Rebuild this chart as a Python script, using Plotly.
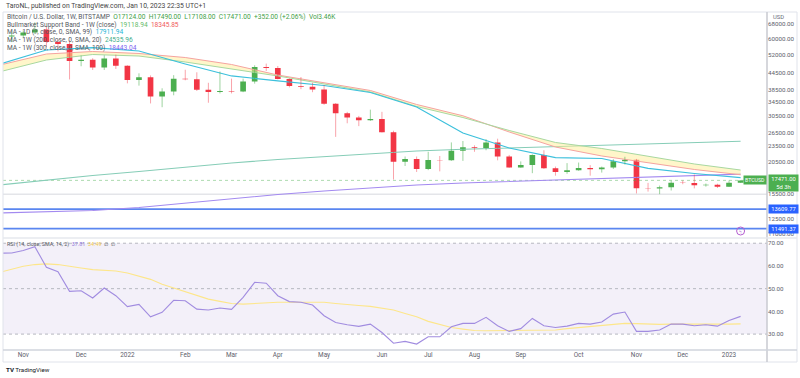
import math
import pandas as pd
import plotly.graph_objects as go

W, H = 800, 378
def px(x): return x / W
def py(y): return 1 - y / H

# ---------------- data ----------------
candle_dates = pd.date_range("2021-10-25", "2023-01-09", freq="7D")
opens  = [61000, 61500, 63200, 64800, 58200, 57200, 49300, 49800, 46600, 50400,
          47300, 41800, 42800, 36250, 37800, 42300, 42100, 38400, 37700, 38000,
          37800, 41250, 46800, 46400, 42150, 39700, 39450, 38470, 34000, 31300,
          30200, 29450, 29800, 26550, 20550, 21030, 19300, 20850, 20800, 22600,
          23300, 23170, 24310, 21500, 19550, 19990, 21800, 19400, 18800, 19100,
          19450, 19250, 19550, 20620, 20900, 16330, 16280, 16450, 17120, 17090,
          16750, 16840, 16550, 17124]
highs  = [63700, 64250, 69000, 66300, 59400, 59000, 51700, 50500, 51800, 52100,
          47500, 44300, 43500, 38900, 43600, 45700, 44700, 40800, 45000, 42300,
          42300, 47500, 48200, 47200, 42400, 42900, 40800, 40000, 34200, 31700,
          30600, 32300, 31700, 26900, 21500, 21500, 22400, 21600, 24300, 24600,
          23700, 25000, 25100, 21800, 20600, 21900, 22700, 19700, 20300, 20400,
          19950, 19700, 21000, 21450, 21050, 17100, 16700, 17420, 17450, 18400,
          17000, 16970, 17450, 17490]
lows   = [58100, 60100, 62300, 55600, 53600, 42000, 47100, 45600, 45600, 46000,
          40600, 39800, 34100, 33000, 36600, 41700, 38000, 34300, 37200, 37200,
          37600, 40500, 45200, 42000, 39200, 38600, 37600, 33700, 25500, 28700,
          28000, 29300, 26500, 17600, 19800, 18800, 19100, 18900, 20700, 20700,
          22400, 22700, 20800, 19500, 19500, 18600, 19300, 18200, 18500, 19000,
          18200, 18700, 19300, 20050, 15600, 15850, 15500, 16000, 16900, 16300,
          16550, 16350, 16500, 17108]
closes = [61500, 63200, 64800, 58200, 57200, 49300, 49800, 46600, 50400, 47300,
          41800, 42800, 36250, 37800, 42300, 42100, 38400, 37700, 38000, 37800,
          41250, 46800, 46400, 42150, 39700, 39450, 38470, 34000, 31300, 30200,
          29450, 29800, 26550, 20550, 21030, 19300, 20850, 20800, 22600, 23300,
          23170, 24310, 21500, 19550, 19990, 21800, 19400, 18800, 19100, 19450,
          19250, 19550, 20620, 20900, 16330, 16280, 16450, 17120, 17090, 16750,
          16840, 16550, 17124, 17471]

ma_dates = pd.date_range("2021-10-18", periods=17, freq="28D")
band_sma20 = [47620, 52390, 53550, 52630, 50820, 47830, 43650, 40730, 38160, 33790,
              30630, 26610, 23350, 21600, 20320, 19210, 18346]
band_ema21 = [44930, 49730, 52170, 51480, 48880, 45990, 43290, 40380, 37670, 33200,
              30170, 26960, 24290, 23050, 21500, 20150, 19119]
ma_1d      = [48040, 54250, 55350, 53780, 48040, 43290, 41520, 39850, 37500, 33060,
              26370, 23150, 21310, 21130, 19380, 18550, 17912]
ma_200w    = [16790, 17530, 18230, 18870, 19630, 20320, 20950, 21500, 22070, 22560,
              22890, 23150, 23350, 23660, 23970, 24180, 24536]
ma_300w    = [13160, 13280, 13450, 13800, 14360, 14930, 15460, 15940, 16350, 16790,
              17080, 17310, 17490, 17690, 17990, 18230, 18443]

rsi_dates = pd.date_range("2021-10-18", "2023-01-09", freq="7D")
rsi = [65.6, 65.7, 66.8, 68.5, 59.4, 57.5, 48.8, 49.1, 45.9, 50.3, 46.9, 42.1, 43.1,
       37.6, 39.6, 44.9, 44.7, 41.0, 40.6, 41.5, 40.9, 46.2, 52.8, 52.4, 46.9, 44.3,
       44.0, 42.8, 38.1, 35.1, 34.1, 33.4, 34.4, 30.7, 26.0, 26.8, 25.6, 28.8, 28.8,
       33.2, 34.7, 34.7, 37.4, 33.7, 31.2, 32.4, 36.9, 33.7, 32.9, 33.5, 34.7, 34.4,
       35.3, 38.8, 39.7, 31.2, 31.2, 31.8, 34.4, 34.4, 33.7, 34.1, 33.5, 36.0, 37.8]
rsi_ma = [57.2, 58.5, 59.9, 60.6, 60.9, 60.6, 60.0, 59.1, 58.4, 58.1, 57.8, 56.9, 55.6,
          54.1, 51.9, 50.3, 48.7, 46.8, 45.4, 44.4, 43.5, 43.2, 43.5, 43.8, 44.0, 44.0,
          44.0, 44.3, 44.0, 43.5, 42.9, 42.6, 42.2, 41.5, 40.6, 39.1, 37.6, 35.6, 34.1,
          32.9, 32.2, 31.6, 31.5, 31.5, 31.5, 31.5, 31.6, 31.6, 31.8, 32.4, 32.9, 33.5,
          34.0, 34.4, 34.7, 34.6, 34.3, 34.3, 34.4, 34.4, 34.4, 34.3, 34.1, 34.4, 34.5]

price_ticks = [68000, 60000, 52000, 44500, 38500, 34500, 30500, 26500, 23500, 20500,
               15500, 12500, 11000]
rsi_ticks = [70, 60, 50, 40, 30]
month_ticks = ["2021-11-01", "2021-12-06", "2022-01-03", "2022-02-07", "2022-03-07",
               "2022-04-04", "2022-05-02", "2022-06-06", "2022-07-04", "2022-08-01",
               "2022-08-29", "2022-10-03", "2022-11-07", "2022-12-05", "2023-01-02"]
month_labels = ["Nov", "Dec", "2022", "Feb", "Mar", "Apr", "May", "Jun", "Jul", "Aug",
                "Sep", "Oct", "Nov", "Dec", "2023"]

last_price = 17471.0
level_lines = [13609.77, 11491.37]
grey_level = 15500

x_range = ["2021-10-19 17:40", "2023-01-24 23:20"]
price_range = [4.0287, 4.8778]
rsi_range = [23.0, 72.3]

GREEN = "#4CAF50"
RED = "#F23645"
FONT = "Roboto"

# ---------------- figure ----------------
fig = go.Figure()

def line(x, y, color, width=1.0, dash=None, xa="x", ya="y", **kw):
    fig.add_trace(go.Scatter(x=x, y=y, mode="lines", xaxis=xa, yaxis=ya,
                             line=dict(color=color, width=width, dash=dash),
                             hoverinfo="skip", showlegend=False, **kw))

# horizontal levels
line(x_range, [grey_level] * 2, "#d6d8de", 1)
line(x_range, [last_price] * 2, "rgba(76,175,80,0.45)", 1, dash="dot")
for lv in level_lines:
    line(x_range, [lv] * 2, "#5a86f0", 1.8)

# moving averages
line(ma_dates, ma_200w, "#86cdb7", 1.1)
line(ma_dates, ma_300w, "#a38af0", 1.1)
line(ma_dates, band_sma20, "#f5a3a0", 1.0)
line(ma_dates, band_ema21, "#a8d8a0", 1.0, fill="tonexty",
     fillcolor="rgba(255,238,150,0.5)")
line(ma_dates, ma_1d, "#3cc0dc", 1.2)

# wicks
wx_up, wy_up, wx_dn, wy_dn = [], [], [], []
for d, o, h, l, c in zip(candle_dates, opens, highs, lows, closes):
    if c >= o:
        wx_up += [d, d, None]; wy_up += [l, h, None]
    else:
        wx_dn += [d, d, None]; wy_dn += [l, h, None]
line(wx_up, wy_up, "rgba(76,175,80,0.55)", 1)
line(wx_dn, wy_dn, "rgba(242,54,69,0.45)", 1)

fig.add_trace(go.Candlestick(
    x=candle_dates, open=opens, high=highs, low=lows, close=closes,
    increasing=dict(line=dict(color=GREEN, width=0), fillcolor=GREEN),
    decreasing=dict(line=dict(color=RED, width=0), fillcolor=RED),
    whiskerwidth=0, hoverinfo="skip", showlegend=False, xaxis="x", yaxis="y"))

# RSI pane
line(rsi_dates, rsi_ma, "#fde68a", 1.1, xa="x2", ya="y2")
line(rsi_dates, rsi, "#a18ce0", 1.1, xa="x2", ya="y2")

shapes = [
    dict(type="rect", xref="x2 domain", x0=0, x1=1, yref="y2", y0=30, y1=70,
         fillcolor="rgba(126,87,194,0.09)", line=dict(width=0), layer="below"),
]
for lv in [70, 50, 30]:
    shapes.append(dict(type="line", xref="x2 domain", x0=0, x1=1, yref="y2", y0=lv, y1=lv,
                       line=dict(color="#b6b8c0", width=1, dash="dot"), layer="below"))
# frame
shapes += [
    dict(type="rect", xref="paper", yref="paper", x0=px(3), x1=px(797), y0=py(362), y1=py(12),
         line=dict(color="#e0e3eb", width=1)),
    dict(type="line", xref="paper", yref="paper", x0=px(767), x1=px(767), y0=py(362), y1=py(12),
         line=dict(color="#c8cad0", width=1.5)),
    dict(type="line", xref="paper", yref="paper", x0=px(3), x1=px(797), y0=py(238), y1=py(238),
         line=dict(color="#e6e8ee", width=1.5)),
    dict(type="line", xref="paper", yref="paper", x0=px(3), x1=px(797), y0=py(350), y1=py(350),
         line=dict(color="#d1d4dc", width=1.5)),
    dict(type="circle", xref="paper", yref="paper", x0=px(736.6), x1=px(744.6),
         y0=py(235), y1=py(227), line=dict(color="#b45fd0", width=1)),
]

def span(t, c):
    return f"<span style='color:{c}'>{t}</span>"

TXT = "#555861"
ann = []
def note(x, y, text, size=6.6, color=TXT, **kw):
    ann.append(dict(xref="paper", yref="paper", x=px(x), y=py(y), text=text,
                    showarrow=False, xanchor=kw.pop("xanchor", "left"),
                    yanchor=kw.pop("yanchor", "middle"),
                    font=dict(family=FONT, size=size, color=color), **kw))

note(4, 6, "TaroNL, published on TradingView.com, Jan 10, 2023 22:35 UTC+1", size=6.8, color="#444")
note(5, 17, "Bitcoin / U.S. Dollar, 1W, BITSTAMP  " +
     span("O17124.00  H17490.00  L17108.00  C17471.00  +352.00 (+2.06%)  Vol3.46K", "#43a047"))
note(5, 25, "Bullmarket Support Band - 1W (close)  " + span("19118.94", "#66bb6a") + "  " +
     span("18345.85", "#f05a5a"))
note(5, 32.5, "MA - 1D (?, close, 0, SMA, 99)  " + span("17911.94", "#26b5d6"))
note(5, 40, "MA - 1W (200, close, 0, SMA, 20)  " + span("24535.96", "#3fae8c"))
note(5, 47.5, "MA - 1W (300, close, 0, SMA, 100)  " + span("18443.04", "#7e5ff0"))
note(5, 244, "RSI (14, close, SMA, 14, 2)  " + span("37.81", "#8c72d8") + "  " +
     span("34.49", "#f2c94c") + "  ∅  ∅", size=5.4)
note(771, 17, "USD", size=5.8, color="#6a6d78")
note(4, 370, "<b>TV</b> TradingView", size=6.2, color="#131722")
note(740.6, 231, "ϟ", size=6, color="#b45fd0", xanchor="center")

# axis-side labels
def tag(yval, text, bg, lines=1):
    ann.append(dict(xref="paper", yref="y", x=px(768), y=math.log10(yval), text=text,
                    showarrow=False, xanchor="left", yanchor="middle", align="center",
                    bgcolor=bg, width=27, borderpad=1,
                    yshift=-3 if lines > 1 else 0,
                    font=dict(family=FONT, size=5.8, color="white")))
tag(last_price, "17471.00<br>5d 3h", GREEN, lines=2)
for lv in level_lines:
    tag(lv, f"{lv:.2f}", "#2962ff")
ann.append(dict(xref="paper", yref="y", x=px(766.5), y=math.log10(last_price), text="BTCUSD",
                showarrow=False, xanchor="right", yanchor="middle", bgcolor=GREEN,
                borderpad=1, font=dict(family=FONT, size=5.2, color="white")))

fig.update_layout(
    width=W, height=H, margin=dict(l=0, r=0, t=0, b=0),
    paper_bgcolor="white", plot_bgcolor="white", showlegend=False,
    font=dict(family=FONT, size=6.4, color="#5d606b"),
    boxgap=0.3,
    xaxis=dict(domain=[px(3), px(767)], range=x_range, type="date", anchor="y",
               showticklabels=False, showgrid=False, zeroline=False,
               rangeslider=dict(visible=False), fixedrange=True),
    xaxis2=dict(domain=[px(3), px(767)], range=x_range, type="date", anchor="y2",
                matches="x", tickmode="array", tickvals=month_ticks, ticktext=month_labels,
                showgrid=False, zeroline=False, ticks="",
                tickfont=dict(family=FONT, size=6.4, color="#5d606b")),
    yaxis=dict(domain=[py(237), py(12)], type="log", range=price_range, side="right",
               anchor="x", tickmode="array", tickvals=price_ticks,
               ticktext=[f"{v:.2f}" for v in price_ticks], showgrid=False, zeroline=False,
               ticks="", tickfont=dict(family=FONT, size=6.2, color="#5d606b")),
    yaxis2=dict(domain=[py(350), py(238)], range=rsi_range, side="right", anchor="x2",
                tickmode="array", tickvals=rsi_ticks,
                ticktext=[f"{v:.2f}" for v in rsi_ticks], showgrid=False, zeroline=False,
                ticks="", tickfont=dict(family=FONT, size=6.2, color="#5d606b")),
    shapes=shapes, annotations=ann,
)

fig.write_html("out.html", config={"displayModeBar": False},
               post_script="document.body.style.margin='0';")
